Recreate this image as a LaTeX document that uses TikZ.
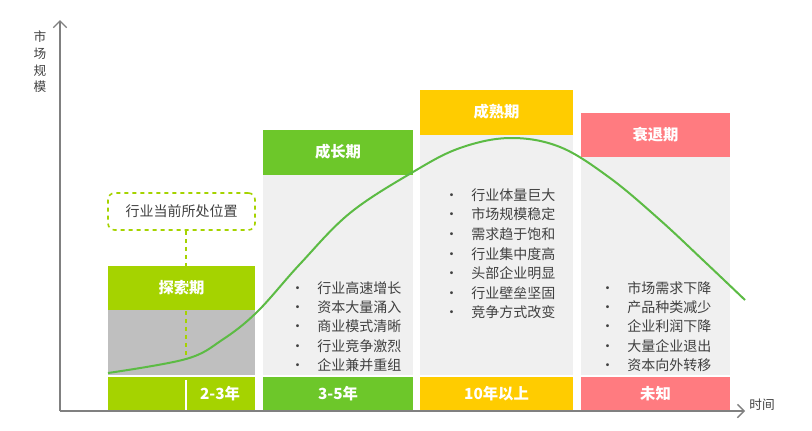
\documentclass[tikz,border=0pt]{standalone}
\usepackage{fontspec}
\setmainfont{Noto Sans CJK SC}
\usetikzlibrary{arrows.meta}
\definecolor{gA}{HTML}{A5D300}
\definecolor{gB}{HTML}{6DC72A}
\definecolor{yC}{HTML}{FFCC00}
\definecolor{pD}{HTML}{FF7B80}
\definecolor{bodyg}{HTML}{F0F0F0}
\definecolor{grayb}{HTML}{BFBFBF}
\definecolor{txt}{HTML}{404040}
\definecolor{curve}{HTML}{5CBB44}
\definecolor{axis}{HTML}{808080}
\tikzset{
 hdr/.style={font=\fontsize{11.5}{13}\selectfont\bfseries, text=white, anchor=center},
 bul/.style={font=\fontsize{10.5}{12}\selectfont, text=txt, anchor=west},
 axlab/.style={font=\fontsize{9.5}{11}\selectfont, text=txt},
}
\newcommand{\bullets}[3]{%
 \foreach \t [count=\i] in {#3} {
  \node[bul] (b#1\i) at (#2, {0}) {};
 }}
\begin{document}
\begin{tikzpicture}[x=0.75pt,y=-0.75pt]
\useasboundingbox (0,0) rectangle (812,430);
% column 1
\fill[gA] (108,266) rectangle (255,310);
\fill[grayb] (108,310) rectangle (255,375);
\fill[gA] (108,377) rectangle (255,411);
\node[hdr] (h1) at (181.5,288) {探索期};
\node[hdr] (f1) at (220,394) {2-3年};
\draw[white,line width=1.5pt] (186,380) -- (186,411);
% column 2
\fill[gB] (263,130) rectangle (413,175);
\fill[bodyg] (263,175) rectangle (413,375);
\fill[gB] (263,377) rectangle (413,411);
\node[hdr] (h2) at (338,152) {成长期};
\node[hdr] (f2) at (338,394) {3-5年};
% column 3
\fill[yC] (420,90) rectangle (573,135);
\fill[bodyg] (420,135) rectangle (573,375);
\fill[yC] (420,377) rectangle (573,411);
\node[hdr] (h3) at (496.5,112) {成熟期};
\node[hdr] (f3) at (496.5,394) {10年以上};
% column 4
\fill[pD] (581,113) rectangle (730,157);
\fill[bodyg] (581,157) rectangle (730,375);
\fill[pD] (581,377) rectangle (730,411);
\node[hdr] (h4) at (655.5,135) {衰退期};
\node[hdr] (f4) at (655.5,394) {未知};
% bullets
\foreach \t [count=\i] in {行业高速增长,资本大量涌入,商业模式清晰,行业竞争激烈,企业兼并重组}
  \node[bul] (g\i) at (286,{288+19.3*(\i-1)}) {•\hspace{0.9em}\t};
\foreach \t [count=\i] in {行业体量巨大,市场规模稳定,需求趋于饱和,行业集中度高,头部企业明显,行业壁垒坚固,竞争方式改变}
  \node[bul] (m\i) at (440,{195+19.6*(\i-1)}) {•\hspace{0.9em}\t};
\foreach \t [count=\i] in {市场需求下降,产品种类减少,企业利润下降,大量企业退出,资本向外转移}
  \node[bul] (d\i) at (596,{288+19.3*(\i-1)}) {•\hspace{0.9em}\t};
% callout
\node[draw=gA,dashed,line width=1.2pt,rounded corners=5pt,minimum width=147*0.75pt,minimum height=37*0.75pt,
  font=\fontsize{10.5}{12}\selectfont,text=txt] (call) at (181.5,211.5) {行业当前所处位置};
\coordinate (cp) at (186,359);
\draw[gA,dashed,line width=1.2pt] (call.south -| cp) -- (cp);
% axes
\coordinate (o) at (60,411);
\coordinate (yt) at (60,20);
\coordinate (xr) at (745,411);
\draw[axis,line width=1pt,-{Straight Barb[length=5pt]}] (o) -- (yt);
\draw[axis,line width=1pt,-{Straight Barb[length=5pt]}] (o) -- (xr);
\node[axlab,align=center,font=\fontsize{9.5}{12.5}\selectfont] (ylab) at (40,62) {市\\场\\规\\模};
\node[axlab] (xlab) at (762,405) {时间};
% curve
\draw[curve,line width=1.5pt] plot[smooth,tension=0.6] coordinates {
 (108,373) (186,359) (222,340) (257,312) (300,264) (350,213) (413,172) (460,148) (510,138) (560,147) (610,178) (660,220) (705,262) (745,300)};
\end{tikzpicture}
\end{document}
